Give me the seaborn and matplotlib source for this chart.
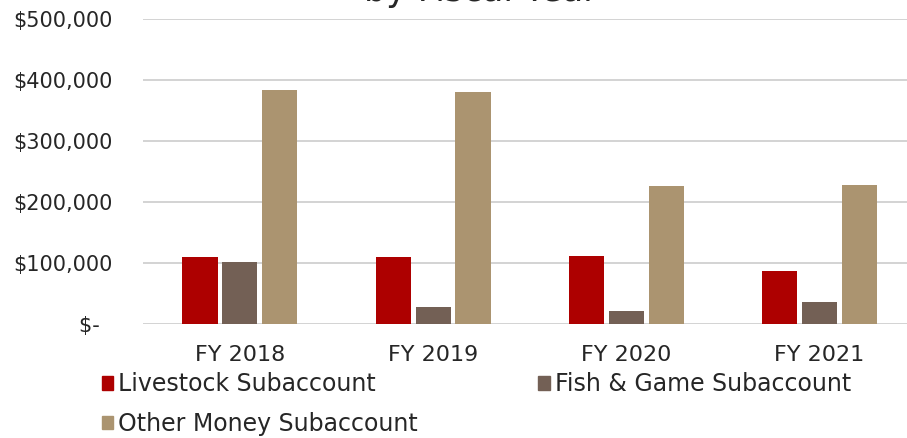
import pandas as pd
import seaborn as sns
import matplotlib.pyplot as plt
from matplotlib.ticker import FuncFormatter

# values
years = ['FY 2018', 'FY 2019', 'FY 2020', 'FY 2021']
livestock = [110000, 110000, 111000, 87000]
fish_game = [102000, 28000, 21000, 36000]
other_money = [384000, 380000, 226000, 228000]
series = ['Livestock Subaccount', 'Fish & Game Subaccount', 'Other Money Subaccount']
colors = ['#AD0000', '#736055', '#AB9470']

df = pd.DataFrame({
    'Year': years * 3,
    'Account': [s for s in series for _ in years],
    'Amount': livestock + fish_game + other_money,
})

sns.set_theme(style='white')
plt.rcParams['font.family'] = ['DejaVu Sans']
text_color = '#262626'

fig = plt.figure(figsize=(9.07, 4.38), dpi=100)
ax = fig.add_axes([0.158, 0.26, 0.852, 0.697])

sns.barplot(data=df, x='Year', y='Amount', hue='Account', palette=colors,
            width=0.62, gap=0.12, linewidth=0, ax=ax, legend=False,
            saturation=1)

ax.set_ylim(0, 500000)
ax.set_xlim(-0.5, 3.5)
ax.set_yticks([0, 100000, 200000, 300000, 400000, 500000])
ax.yaxis.set_major_formatter(FuncFormatter(
    lambda v, p: '$-  ' if v == 0 else f'${v:,.0f}'))
ax.grid(axis='y', color='#d0d0d0', linewidth=1.3)
ax.set_axisbelow(True)
for s in ax.spines.values():
    s.set_visible(False)
ax.tick_params(axis='both', length=0, labelcolor=text_color)
ax.tick_params(axis='y', pad=22, labelsize=15)
ax.tick_params(axis='x', pad=15, labelsize=16)
ax.set_xlabel('')
ax.set_ylabel('')

# cropped title line at the top
fig.text(0.53, 0.997, 'by Fiscal Year', ha='center', va='baseline',
         fontsize=25, color=text_color)

# row-wise legend order (matplotlib fills columns first)
order = [0, 2, 1]
handles = [plt.Rectangle((0, 0), 1, 1, color=colors[i]) for i in order]
labels = [series[i] for i in order]
fig.legend(handles, labels, loc='upper left', bbox_to_anchor=(0.112, 0.15),
           ncol=2, frameon=False, fontsize=17, handlelength=0.5,
           handleheight=0.5, handletextpad=0.2, columnspacing=5.1,
           labelspacing=0.65, borderaxespad=0, borderpad=0,
           labelcolor=text_color)

fig.savefig('out.png', dpi=100)
